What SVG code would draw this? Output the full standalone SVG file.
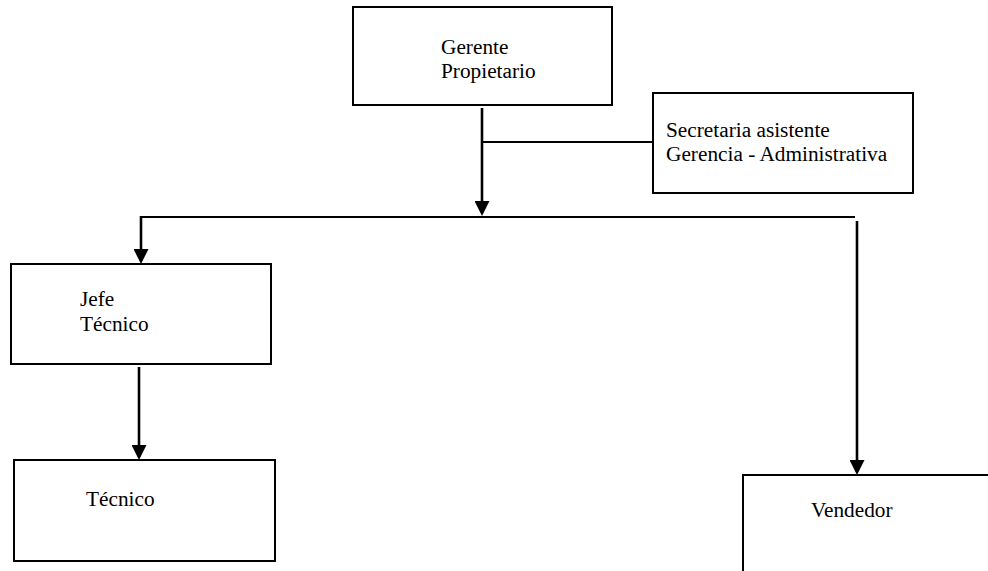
<svg xmlns="http://www.w3.org/2000/svg" width="988" height="571" viewBox="0 0 988 571">
<style>
.box{fill:#fff;stroke:#000;stroke-width:2}
.t{font-family:"Liberation Serif","Times New Roman",serif;font-size:21.3px;fill:#000}
.ln{stroke:#000;stroke-width:2;fill:none}
.ar{stroke:#000;stroke-width:2.6;fill:none;marker-end:url(#ah)}
</style>
<defs>
<marker id="ah" viewBox="0 0 15 15" markerWidth="15" markerHeight="15" markerUnits="userSpaceOnUse" refX="12" refY="7.5" orient="auto">
<path d="M0,0 L15,7.5 L0,15 z" fill="#000"/>
</marker>
</defs>
<rect width="988" height="571" fill="#fff"/>
<g id="connectors">
<line class="ar" x1="482" y1="108" x2="482" y2="213"/>
<line class="ln" x1="482" y1="142" x2="653" y2="142"/>
<line class="ln" x1="140" y1="217" x2="855" y2="217"/>
<line class="ar" x1="141" y1="216" x2="141" y2="261"/>
<line class="ar" x1="857" y1="221" x2="857" y2="472"/>
<line class="ar" x1="139" y1="367" x2="139" y2="457"/>
</g>
<g id="gerente">
<rect class="box" x="353" y="7" width="259" height="98"/>
<text class="t" x="441" y="54">Gerente</text>
<text class="t" x="441" y="78">Propietario</text>
</g>
<g id="secretaria">
<rect class="box" x="653" y="93" width="260" height="100"/>
<text class="t" x="666" y="137">Secretaria asistente</text>
<text class="t" x="666" y="161">Gerencia - Administrativa</text>
</g>
<g id="jefe">
<rect class="box" x="11" y="264" width="260" height="100"/>
<text class="t" x="80" y="306">Jefe</text>
<text class="t" x="80" y="331">Técnico</text>
</g>
<g id="tecnico">
<rect class="box" x="14" y="460" width="261" height="101"/>
<text class="t" x="86" y="506">Técnico</text>
</g>
<g id="vendedor">
<rect class="box" x="743" y="475" width="260" height="110"/>
<text class="t" x="811" y="517">Vendedor</text>
</g>
</svg>
